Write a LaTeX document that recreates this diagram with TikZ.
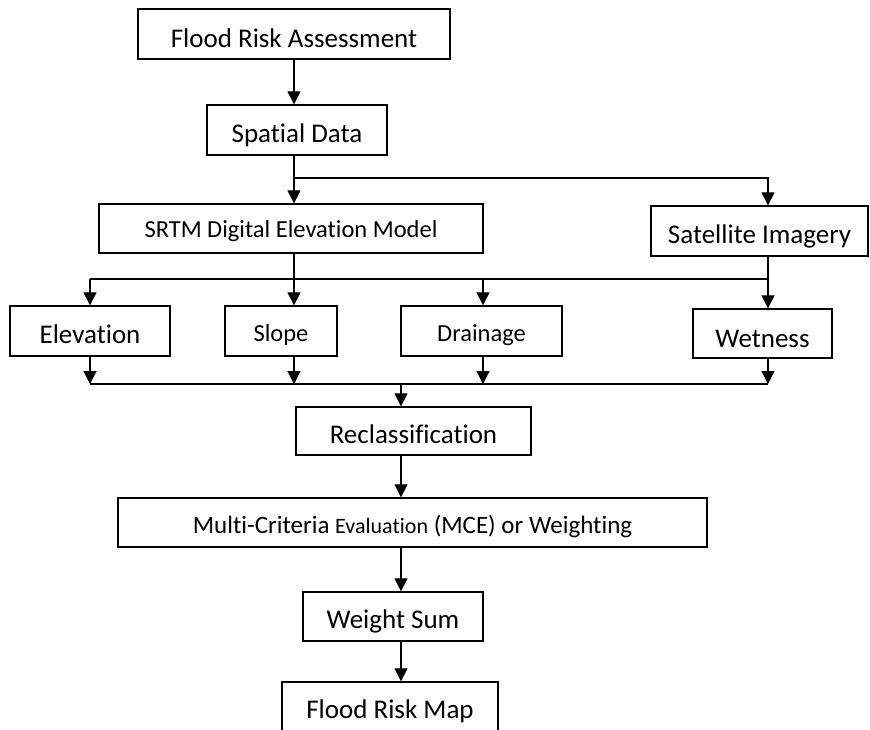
\documentclass[tikz,border=0pt]{standalone}
\usepackage{fontspec}
\setmainfont{Carlito}[Ligatures={NoCommon}]
\usetikzlibrary{arrows.meta}
\begin{document}
\begin{tikzpicture}[x=1pt,y=-1pt,
  box/.style={draw, line width=1.3pt, inner sep=0pt, text depth=0pt, align=center},
  big/.style={font=\fontsize{27}{32}\selectfont},
  small/.style={font=\fontsize{24.5}{29}\selectfont},
  conn/.style={line width=1.1pt},
  arr/.style={conn, -{Triangle[width=13pt,length=13pt]}}]
\useasboundingbox (0,0) rectangle (870,729);
\clip (0,0) rectangle (870,729);

% boxes
\node[box,big,minimum width=312pt,minimum height=50pt,text height=26pt] (fra) at (294,34) {Flood Risk Assessment};
\node[box,big,minimum width=180pt,minimum height=50pt,text height=24pt] (sd) at (297,130) {Spatial Data};
\node[box,small,minimum width=384pt,minimum height=49pt,text height=17pt] (srtm) at (291,228.5) {SRTM Digital Elevation Model};
\node[box,big,minimum width=217pt,minimum height=50pt,text height=24pt] (sat) at (759.5,231) {Satellite Imagery};
\node[box,big,minimum width=160pt,minimum height=50pt,text height=24pt] (elev) at (90,331) {Elevation};
\node[box,small,minimum width=112pt,minimum height=50pt,text height=20pt] (slope) at (281,331) {Slope};
\node[box,small,minimum width=161pt,minimum height=50pt,text height=20pt] (drain) at (481.5,331) {Drainage};
\node[box,big,minimum width=139pt,minimum height=49pt,text height=27pt] (wet) at (762.5,333.5) {Wetness};
\node[box,big,minimum width=235pt,minimum height=48pt,text height=24pt] (recl) at (413.5,431) {Reclassification};
\node[box,font=\fontsize{25}{30}\selectfont,minimum width=589pt,minimum height=49pt,text height=21pt] (mce) at (412.5,522.5) {Multi-Criteria {\fontsize{22}{26}\selectfont Evaluation} (MCE) or Weighting};
\node[box,big,minimum width=180pt,minimum height=49pt,text height=23pt] (ws) at (393,616.5) {Weight Sum};
\node[box,big,minimum width=216pt,minimum height=50pt,text height=22pt] (frm) at (390,707) {Flood Risk Map};

% junction points
\coordinate (j1) at (294,178);
\coordinate (j2) at (768,178);
\coordinate (h1) at (90,279);
\coordinate (h3) at (483,279);
\coordinate (h2) at (768,279);
\coordinate (b1) at (90,384);
\coordinate (b2) at (294,384);
\coordinate (b3) at (483,384);
\coordinate (b4) at (768,384);
\coordinate (bm) at (401,384);

% connectors
\draw[arr] (fra.south) -- (fra.south |- sd.north);
\draw[conn] (j1 |- sd.south) -- (j1);
\draw[arr] (j1) -- (j1 |- srtm.north);
\draw[arr] (j1) -- (j2) -- (j2 |- sat.north);

\draw[arr] (j1 |- srtm.south) -- (j1 |- slope.north);
\draw[conn] (h1) -- (h2);
\draw[arr] (h1) -- (h1 |- elev.north);
\draw[arr] (h3) -- (h3 |- drain.north);
\draw[arr] (j2 |- sat.south) -- (j2 |- wet.north);

\draw[arr] (b1 |- elev.south) -- (b1);
\draw[arr] (b2 |- slope.south) -- (b2);
\draw[arr] (b3 |- drain.south) -- (b3);
\draw[arr] (b4 |- wet.south) -- (b4);
\draw[conn] (b1) -- (b4);
\draw[arr] (bm) -- (bm |- recl.north);

\draw[arr] (bm |- recl.south) -- (bm |- mce.north);
\draw[arr] (bm |- mce.south) -- (bm |- ws.north);
\draw[arr] (bm |- ws.south) -- (bm |- frm.north);
\end{tikzpicture}
\end{document}
